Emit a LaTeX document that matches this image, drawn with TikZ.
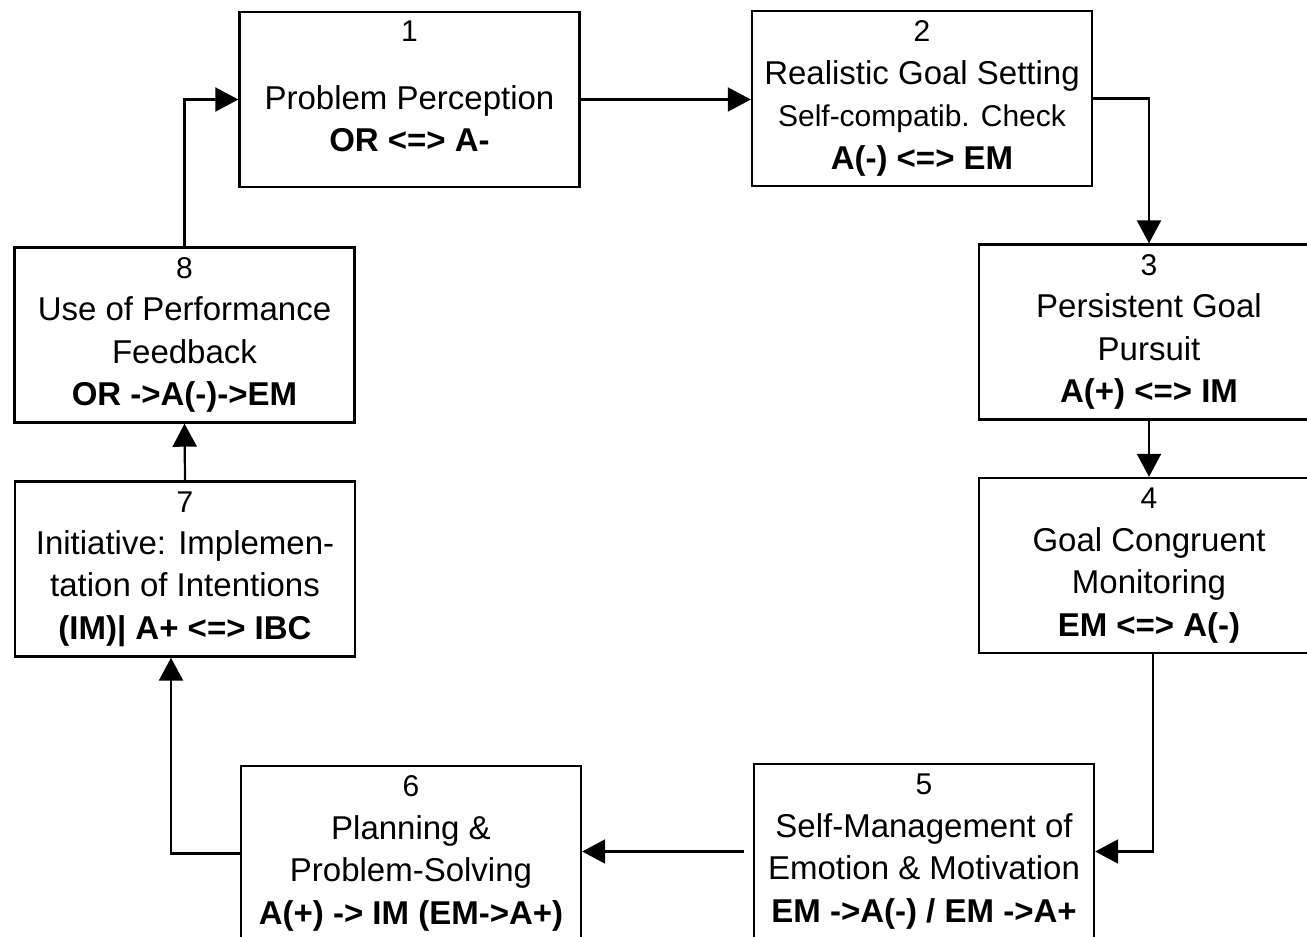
\documentclass[tikz,border=0pt]{standalone}
\usepackage{fontspec}
\setmainfont{Liberation Sans}
\usetikzlibrary{arrows.meta,positioning}

\newcommand{\stageno}[1]{{\fontsize{15}{21.2}\selectfont #1}}

\begin{document}
\begin{tikzpicture}[x=0.5pt, y=-0.5pt,
    stage/.style={draw, line width=1.2pt, minimum width=170pt, minimum height=87.5pt,
        inner sep=0pt, align=center, font=\fontsize{16.5}{21.2}\selectfont},
    flow/.style={line width=1.1pt, -{Triangle[length=11.5pt,width=12pt]}}]
    \useasboundingbox (0,0) rectangle (1307,937);

    \node[stage] (s1) at (409.5,99.5) {\stageno{1}\\[12.5pt]Problem Perception\\\textbf{OR <=> A-}\rule[-13pt]{0pt}{0pt}};
    \node[stage] (s2) at (922,98.5) {\stageno{2}\\Realistic Goal Setting\\{\fontsize{15}{19.5}\selectfont Self-compatib. Check}\\\textbf{A(-) <=> EM}};
    \node[stage] (s3) at (1149,332) {\stageno{3}\\Persistent Goal\\Pursuit\\\textbf{A(+) <=> IM}};
    \node[stage] (s4) at (1149,565.5) {\stageno{4}\\Goal Congruent\\Monitoring\\\textbf{EM <=> A(-)}};
    \node[stage] (s5) at (924,851.5) {\stageno{5}\\Self-Management of\\Emotion \& Motivation\\\textbf{EM ->A(-) / EM ->A+}};
    \node[stage] (s6) at (411,853.5) {\stageno{6}\\Planning \&\\Problem-Solving\\\textbf{A(+) -> IM (EM->A+)}};
    \node[stage] (s7) at (185,569) {\stageno{7}\\Initiative: Implemen-\\tation of Intentions\\\textbf{(IM)| A+ <=> IBC}};
    \node[stage] (s8) at (184.5,335) {\stageno{8}\\Use of Performance\\Feedback\\\textbf{OR ->A(-)->EM}};

    \coordinate (s5out) at ([xshift=-4.5pt]s5.west);
    \coordinate (s7in) at ([xshift=-7pt]s7.south);

    \draw[flow] (s1.east) -- (s1.east -| s2.west);
    \draw[flow] (s2.east) -| (s3.north);
    \draw[flow] (s3.south) -- (s4.north);
    \draw[flow] ([xshift=2pt]s4.south) |- (s5.east);
    \draw[flow] (s5out) -- (s5out -| s6.east);
    \draw[flow] (s6.west) -| (s7in);
    \draw[flow] (s7.north) -- (s8.south);
    \draw[flow] (s8.north) |- (s1.west);
\end{tikzpicture}
\end{document}
